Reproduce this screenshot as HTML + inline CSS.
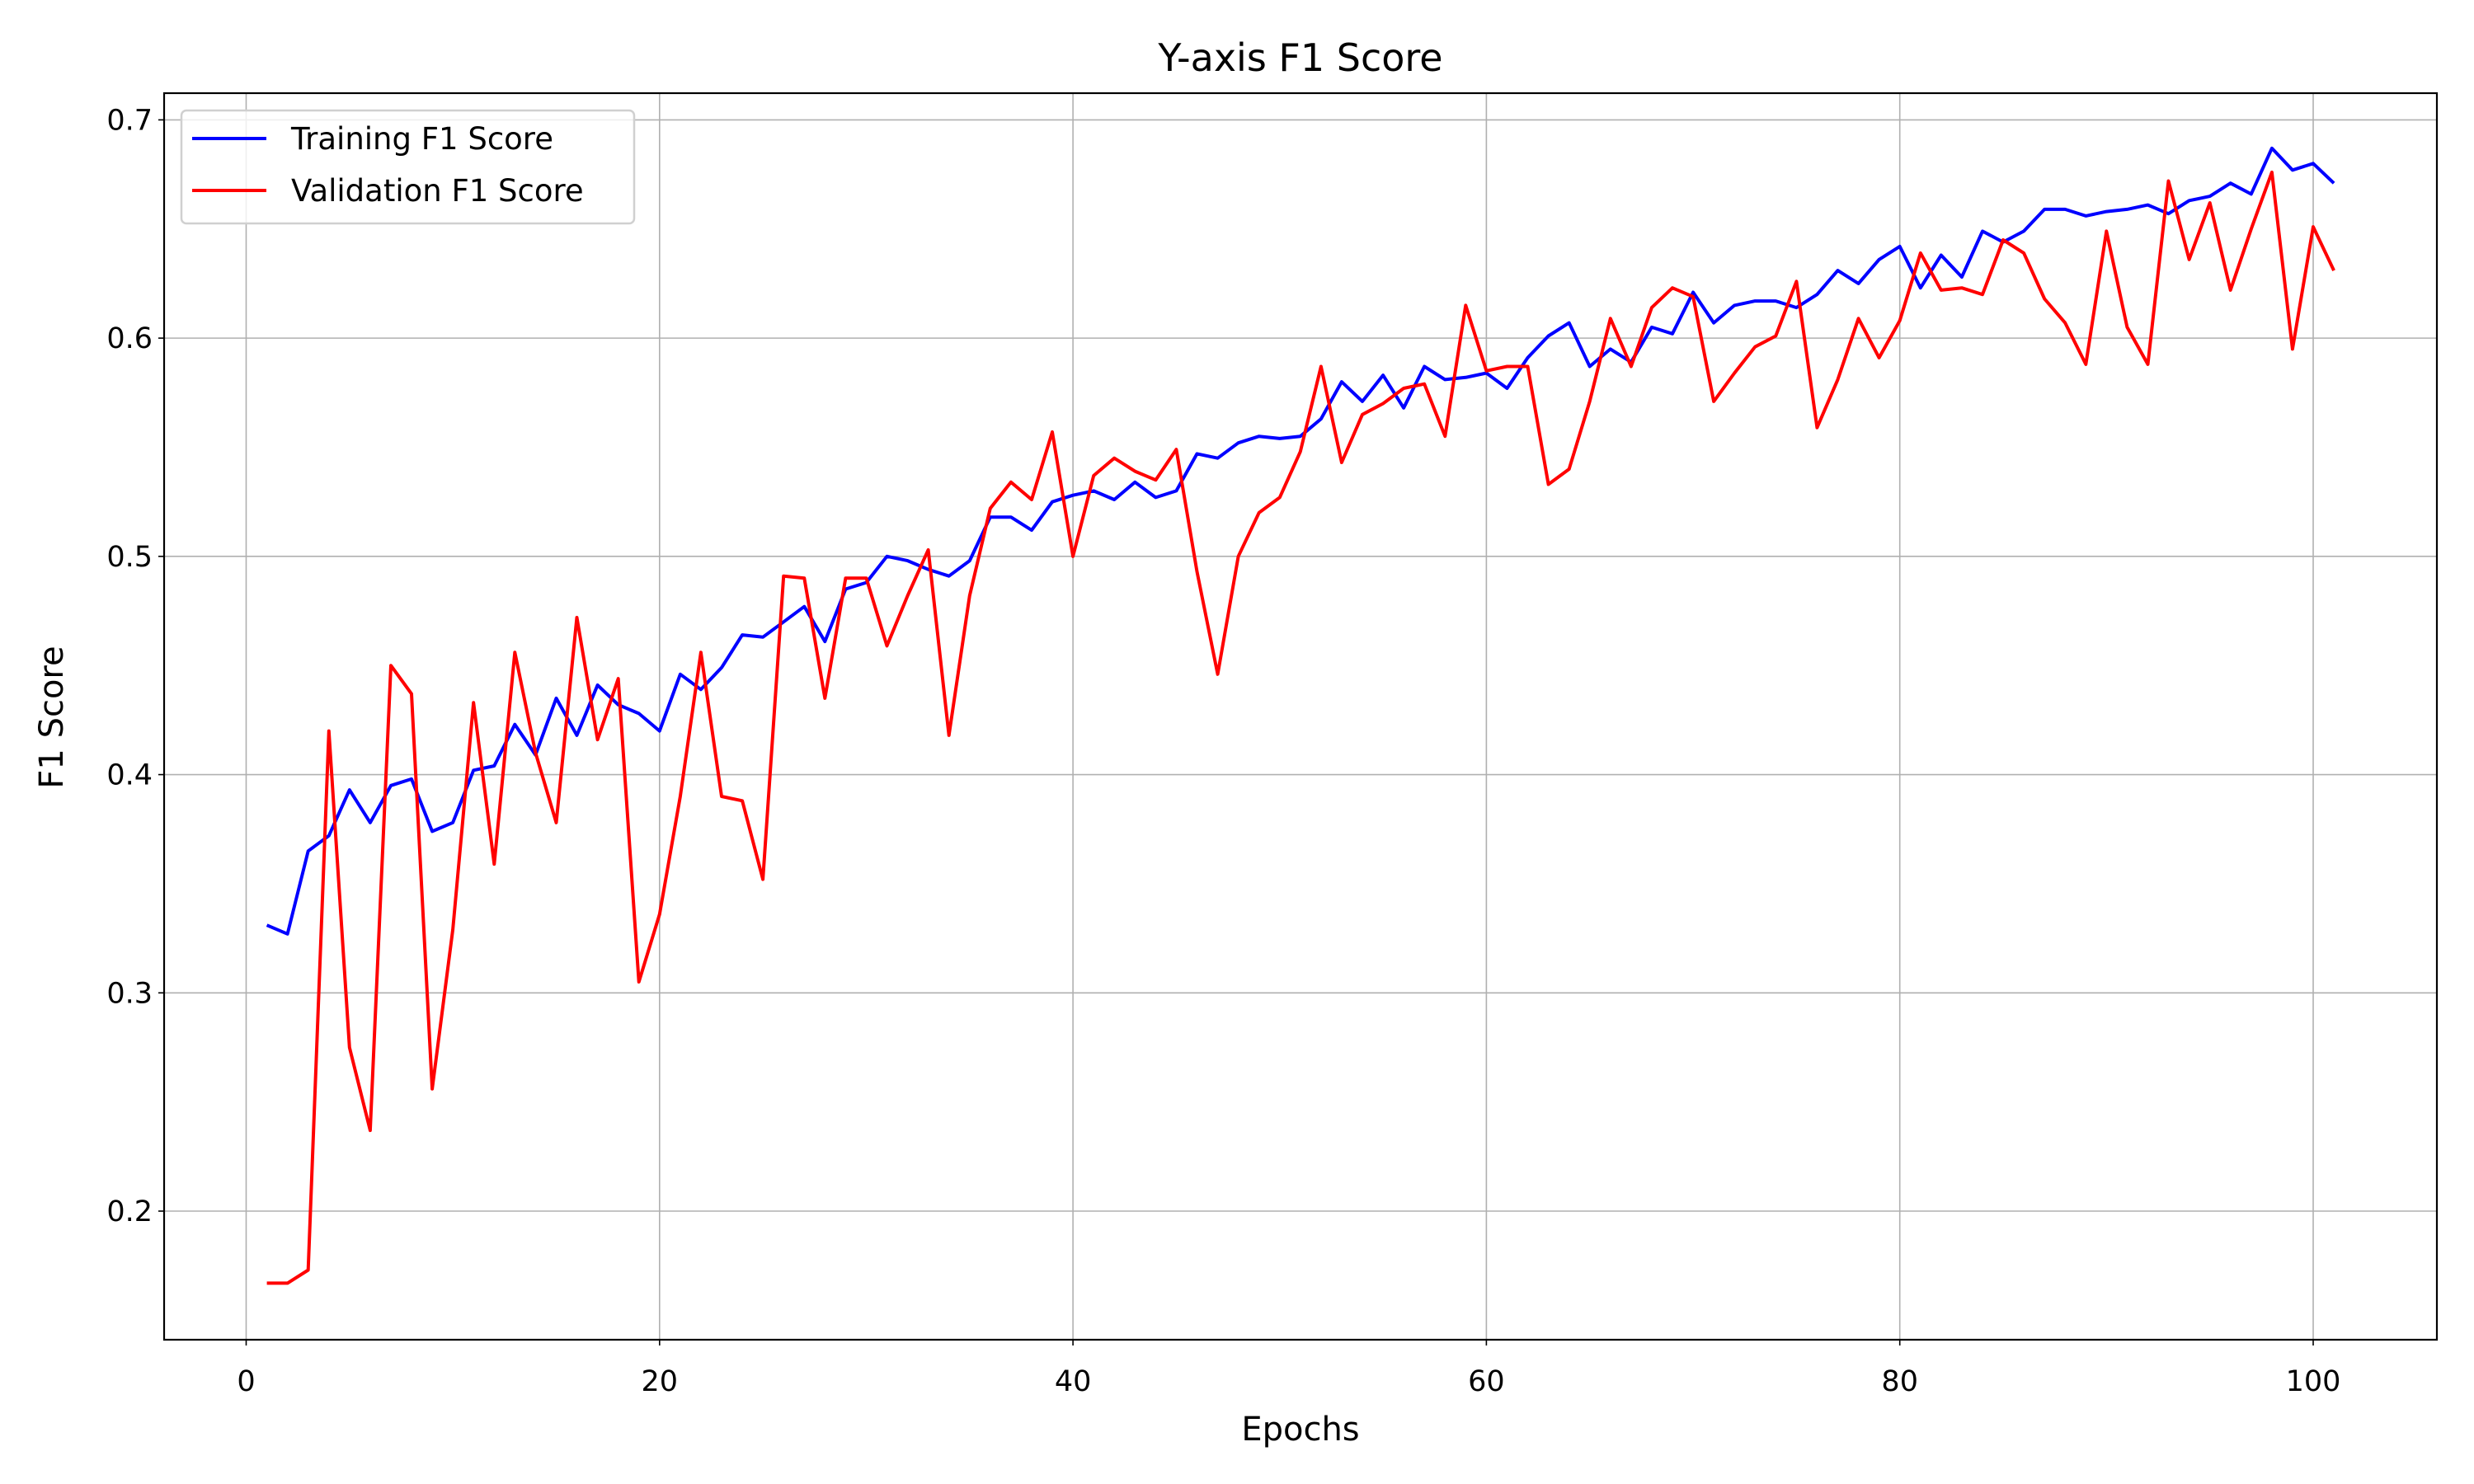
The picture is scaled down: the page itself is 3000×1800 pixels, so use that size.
<!DOCTYPE html>
<html><head><meta charset="utf-8"><style>
html,body{margin:0;padding:0;background:#fff;}
svg{display:block;font-family:"DejaVu Sans","Liberation Sans",sans-serif;}
</style></head><body>
<svg id="chart" width="3000" height="1800" viewBox="0 0 3000 1800" xmlns="http://www.w3.org/2000/svg">
<rect x="0" y="0" width="3000" height="1800" fill="#fff"/>
<g id="grid"></g>
<g id="series"></g>
<g id="axes"></g>
<text x="1577" y="86" font-size="46" text-anchor="middle" fill="#000">Y-axis F1 Score</text>
<text x="1577" y="1747" font-size="40" text-anchor="middle" fill="#000">Epochs</text>
<text x="0" y="0" font-size="40" text-anchor="middle" fill="#000" transform="translate(76,870) rotate(-90)">F1 Score</text>
<g>
<rect x="220" y="134" width="549" height="137" rx="6" fill="#fff" fill-opacity="0.8" stroke="#d0d0d0" stroke-width="2.5"/>
<line x1="233" y1="168" x2="323" y2="168" stroke="#0000ff" stroke-width="4"/>
<text x="353" y="181" font-size="37" fill="#000">Training F1 Score</text>
<line x1="233" y1="231" x2="323" y2="231" stroke="#ff0000" stroke-width="4"/>
<text x="353" y="244" font-size="37" fill="#000">Validation F1 Score</text>
</g>
</svg>
<script>
const trainF1 = [0.331,0.327,0.365,0.372,0.393,0.378,0.395,0.398,0.374,0.378,0.402,0.404,0.423,0.409,0.435,0.418,0.441,0.432,0.428,0.420,0.446,0.439,0.449,0.464,0.463,0.470,0.477,0.461,0.485,0.488,0.500,0.498,0.494,0.491,0.498,0.518,0.518,0.512,0.525,0.528,0.530,0.526,0.534,0.527,0.530,0.547,0.545,0.552,0.555,0.554,0.555,0.563,0.580,0.571,0.583,0.568,0.587,0.581,0.582,0.584,0.577,0.591,0.601,0.607,0.587,0.595,0.589,0.605,0.602,0.621,0.607,0.615,0.617,0.617,0.614,0.620,0.631,0.625,0.636,0.642,0.623,0.638,0.628,0.649,0.644,0.649,0.659,0.659,0.656,0.658,0.659,0.661,0.657,0.663,0.665,0.671,0.666,0.687,0.677,0.680,0.671];
const valF1 = [0.167,0.167,0.173,0.420,0.275,0.237,0.450,0.437,0.256,0.329,0.433,0.359,0.456,0.410,0.378,0.472,0.416,0.444,0.305,0.336,0.390,0.456,0.390,0.388,0.352,0.491,0.490,0.435,0.490,0.490,0.459,0.482,0.503,0.418,0.482,0.522,0.534,0.526,0.557,0.500,0.537,0.545,0.539,0.535,0.549,0.493,0.446,0.500,0.520,0.527,0.548,0.587,0.543,0.565,0.570,0.577,0.579,0.555,0.615,0.585,0.587,0.587,0.533,0.540,0.571,0.609,0.587,0.614,0.623,0.619,0.571,0.584,0.596,0.601,0.626,0.559,0.581,0.609,0.591,0.608,0.639,0.622,0.623,0.620,0.645,0.639,0.618,0.607,0.588,0.649,0.605,0.588,0.672,0.636,0.662,0.622,0.650,0.676,0.595,0.651,0.631];
const xTicks = [0,20,40,60,80,100];
const yTicks = [0.2,0.3,0.4,0.5,0.6,0.7];
const yTickLabels = ["0.2","0.3","0.4","0.5","0.6","0.7"];

const L=199,R=2955,T=113,B=1625;
function xs(e){return 298.5+(e-0)*(2805-298.5)/100;}
function ys(v){return 1469+(v-0.2)*(145.4-1469)/0.5;}
const NS="http://www.w3.org/2000/svg";
function mk(tag,attrs,parent){const el=document.createElementNS(NS,tag);for(const k in attrs)el.setAttribute(k,attrs[k]);parent.appendChild(el);return el;}
const grid=document.getElementById('grid'),axes=document.getElementById('axes'),series=document.getElementById('series');
xTicks.forEach(t=>{
  const g=mk('line',{x1:xs(t),x2:xs(t),y1:T,y2:B,stroke:'#b0b0b0','stroke-width':1.6},grid);
  
  
  const tk=mk('line',{x1:xs(t),x2:xs(t),y1:B,y2:B+7,stroke:'#000','stroke-width':1.6},axes);
  
  
  const tx=mk('text',{x:xs(t),y:1687,'font-size':35,'text-anchor':'middle',fill:'#000'},axes);
  tx.textContent=String(t);
  
  
});
yTicks.forEach((t,i)=>{
  const g=mk('line',{x1:L,x2:R,y1:ys(t),y2:ys(t),stroke:'#b0b0b0','stroke-width':1.6},grid);
  
  
  const tk=mk('line',{x1:L-7,x2:L,y1:ys(t),y2:ys(t),stroke:'#000','stroke-width':1.6},axes);
  
  
  const tx=mk('text',{x:L-14,y:ys(t)+12,'font-size':35,'text-anchor':'end',fill:'#000'},axes);
  tx.textContent=yTickLabels[i];
  
  
});
const frame=mk('rect',{x:L,y:T,width:R-L,height:B-T,fill:'none',stroke:'#000','stroke-width':2.2},axes);


function pts(arr){return arr.map((v,i)=>xs(i+1).toFixed(1)+','+ys(v).toFixed(1)).join(' ');}
const tl=mk('polyline',{points:pts(trainF1),fill:'none',stroke:'#0000ff','stroke-width':4,'stroke-linejoin':'round'},series);


const vl=mk('polyline',{points:pts(valF1),fill:'none',stroke:'#ff0000','stroke-width':4,'stroke-linejoin':'round'},series);


</script>
</body></html>
